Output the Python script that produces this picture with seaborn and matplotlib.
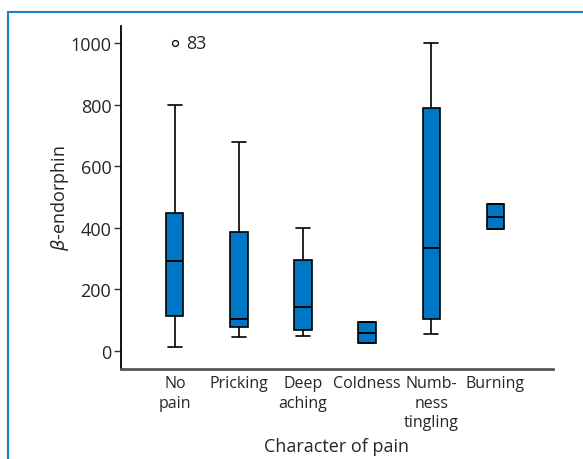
import matplotlib
matplotlib.use("Agg")
import matplotlib.pyplot as plt
import seaborn as sns
import pandas as pd
from matplotlib.patches import Rectangle

# ---- data ----
categories = ["No\npain", "Pricking", "Deep\naching", "Coldness", "Numb-\nness\ntingling", "Burning"]
whisker_low = [13, 45, 49, 26, 55, 396]
q1 = [114, 78, 68, 26, 104, 396]
median = [292, 104, 143, 58, 334, 435]
q3 = [448, 386, 295, 94, 789, 477]
whisker_high = [800, 679, 399, 94, 1000, 477]
outlier_cat = ["No\npain"]
outlier_val = [1000]
outlier_label = ["83"]
yticks = [0, 200, 400, 600, 800, 1000]

rows = []
for c, a, b, m, d, e in zip(categories, whisker_low, q1, median, q3, whisker_high):
    for v in (a, b, m, d, e):
        rows.append({"pain": c, "val": v})
df = pd.DataFrame(rows)
out_df = pd.DataFrame({"pain": outlier_cat, "val": outlier_val})

sns.set_style("white")
plt.rcParams["font.family"] = ["Open Sans", "DejaVu Sans"]

fig = plt.figure(figsize=(5.83, 4.60), dpi=100)
ax = fig.add_axes([121 / 583, 1 - 370 / 460, (553 - 121) / 583, (370 - 27) / 460])

box_color = "#0077c4"
sns.boxplot(data=df, x="pain", y="val", order=categories, ax=ax, whis=(0, 100),
            width=0.27, color=box_color, saturation=1, linecolor="black",
            linewidth=1.2, capwidths=0.22,
            medianprops=dict(color="black", linewidth=1.4))

sns.scatterplot(data=out_df, x="pain", y="val", ax=ax, marker="o", s=18,
                facecolor="white", edgecolor="black", linewidth=0.9, zorder=5)
for c, v, lab in zip(outlier_cat, outlier_val, outlier_label):
    xi = categories.index(c)
    ax.text(xi + 0.18, v, lab, fontsize=13, va="center", ha="left")

ax.set_ylim(-58, 1055)
ax.set_xlim(-0.84, 5.9)
ax.set_yticks(yticks)
ax.set_yticklabels([str(t) for t in yticks], fontsize=13)
ax.tick_params(axis="y", which="both", left=True, length=5, width=1, color="#333333", pad=2)
ax.tick_params(axis="x", bottom=False, labelsize=11.5, pad=1)
for lab in ax.get_xticklabels():
    lab.set_linespacing(1.3)
    lab.set_va("top")

sns.despine(ax=ax)
ax.spines["left"].set_color("black")
ax.spines["left"].set_linewidth(1.3)
ax.spines["bottom"].set_color("#555555")
ax.spines["bottom"].set_linewidth(2)

ax.set_xlabel("Character of pain", fontsize=13, va="center")
ax.xaxis.set_label_coords(0.5, (370 - 447) / 343)
ax.set_ylabel(r"$\beta$-endorphin", fontsize=13, va="center")
ax.yaxis.set_label_coords((60 - 121) / 432, 0.5)

fig.patches.append(Rectangle((8 / 583, -0.05), 1.1, 1 - 13 / 460 + 0.05,
                             transform=fig.transFigure, fill=False,
                             edgecolor="#1a80c8", linewidth=1.5, clip_on=False))

fig.savefig("out.png", dpi=100)
